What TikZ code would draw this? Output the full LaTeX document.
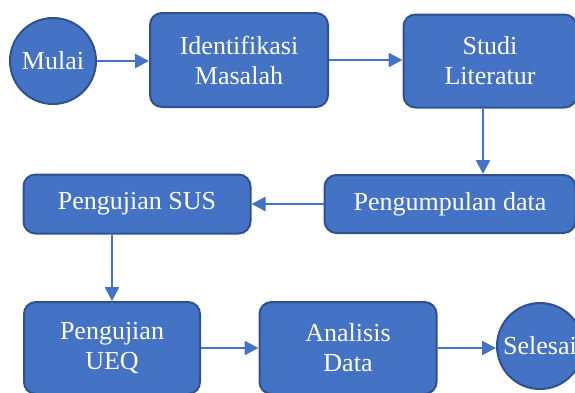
\documentclass[tikz,border=0pt]{standalone}
\usepackage{fontspec}
\setmainfont{Liberation Serif}
\usepackage{tikz}
\usetikzlibrary{arrows.meta,positioning}

\definecolor{boxblue}{HTML}{4472C4}
\definecolor{rimblue}{HTML}{2F528F}

\tikzset{
    stepbox/.style={rectangle,rounded corners=12pt,draw=rimblue,line width=2pt,
        fill=boxblue,text=white,align=center,font=\fontsize{26}{30}\selectfont},
    endpoint/.style={circle,draw=rimblue,line width=2pt,fill=boxblue,text=white,
        minimum size=86pt,inner sep=0pt,font=\fontsize{26}{30}\selectfont},
    flow/.style={draw=boxblue,line width=2.5pt,-{Triangle[length=14pt,width=14pt]}}
}

\begin{document}
\begin{tikzpicture}[x=1pt,y=-1pt]
    \clip (0,0) rectangle (575,392);
    \useasboundingbox (0,0) rectangle (575,392);

    % baris atas
    \node [endpoint] (mulai) at (53,61) {Mulai};
    \node [stepbox,minimum width=178pt,minimum height=94pt] (identifikasi) at (239,60) {Identifikasi\\Masalah};
    \node [stepbox,minimum width=173pt,minimum height=93pt] (studi) at (490,61) {Studi\\Literatur};

    % baris tengah
    \node [stepbox,minimum width=251pt,minimum height=58pt] (kumpul) at (450,204) {Pengumpulan data};
    \node [stepbox,minimum width=227pt,minimum height=59pt] (sus) at (137,204) {Pengujian SUS};

    % baris bawah
    \node [stepbox,minimum width=176pt,minimum height=92pt] (ueq) at (112,348) {Pengujian\\UEQ};
    \node [stepbox,minimum width=177pt,minimum height=92pt] (analisis) at (348,348) {Analisis\\Data};
    \node [endpoint] (selesai) at (540,346) {Selesai};

    \coordinate (turun) at ([xshift=-7pt]studi.south);

    \draw [flow] (mulai) -- (mulai -| identifikasi.west);
    \draw [flow] (identifikasi) -- (identifikasi -| studi.west);
    \draw [flow] (turun) -- (turun |- kumpul.north);
    \draw [flow] (kumpul) -- (kumpul -| sus.east);
    \draw [flow] (ueq.north |- sus.south) -- (ueq.north);
    \draw [flow] (ueq) -- (ueq -| analisis.west);
    \draw [flow] (analisis) -- (analisis -| selesai.west);
\end{tikzpicture}
\end{document}
